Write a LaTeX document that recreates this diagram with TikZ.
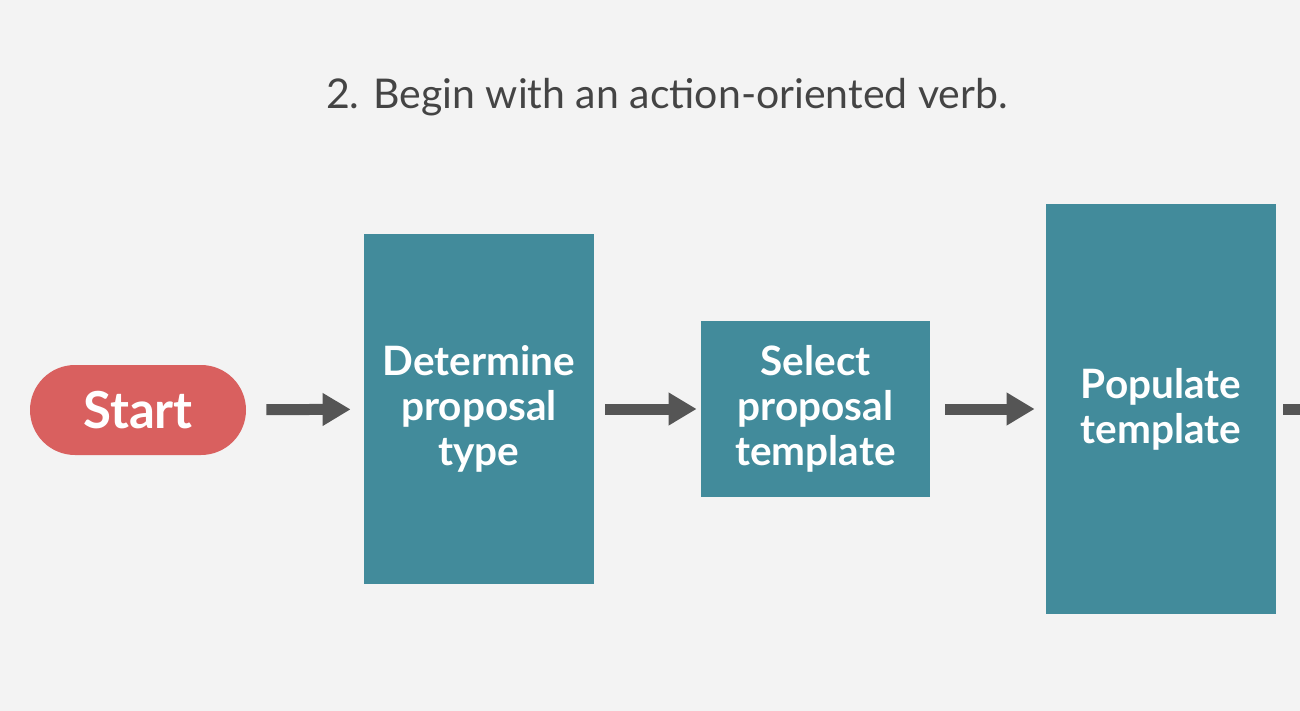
\documentclass[tikz,border=0pt]{standalone}
\usepackage{fontspec}
\setmainfont{Lato}
\usetikzlibrary{arrows.meta}

\definecolor{pagebg}{RGB}{243,243,243}
\definecolor{tealbox}{RGB}{66,139,155}
\definecolor{startred}{RGB}{217,96,95}
\definecolor{arrowgray}{RGB}{85,85,85}
\definecolor{titlegray}{RGB}{68,68,68}

\tikzset{every picture/.style={line width=0.75pt}}
\tikzset{
  stepbox/.style={fill=tealbox, text=white, align=center, inner sep=0pt,
    font=\fontsize{40.5}{45}\selectfont\bfseries},
  startpill/.style={fill=startred, text=white, minimum width=216, minimum height=90,
    rounded corners=45, inner sep=0pt, font=\fontsize{51}{55}\selectfont\bfseries},
  flowarrow/.style={draw=arrowgray, line width=11, -{Triangle[length=28,width=31]}},
  flowshaft/.style={draw=arrowgray, line width=11},
}

\begin{document}
\begin{tikzpicture}[x=1pt,y=1pt,yscale=-1,xscale=1]
%Background
\path[use as bounding box, fill=pagebg] (0,0) rectangle (1300,711);

% Title
\node (title) at (667,97) [text=titlegray, font=\fontsize{41}{46}\selectfont] {2. Begin with an action-oriented verb.};

%Shape: Pill
\node (start) at (138,410) [startpill] {Start};
%Shape: Rectangle
\node (det) at (479,409) [stepbox, minimum width=230, minimum height=350] {Determine\\proposal\\type};
%Shape: Rectangle
\node (sel) at (815.5,409) [stepbox, minimum width=229, minimum height=176] {Select\\proposal\\template};
%Shape: Rectangle
\node (pop) at (1161,409) [stepbox, minimum width=230, minimum height=410] {Populate\\template};
\coordinate (edge) at (1300,409);

%Straight Lines
\draw[flowarrow, shorten <=20, shorten >=13] (start) -- (det);
\draw[flowarrow, shorten <=11, shorten >=4] (det) -- (sel);
\draw[flowarrow, shorten <=15, shorten >=11] (sel) -- (pop);
\draw[flowshaft, shorten <=7] (pop) -- (edge);

\end{tikzpicture}
\end{document}
